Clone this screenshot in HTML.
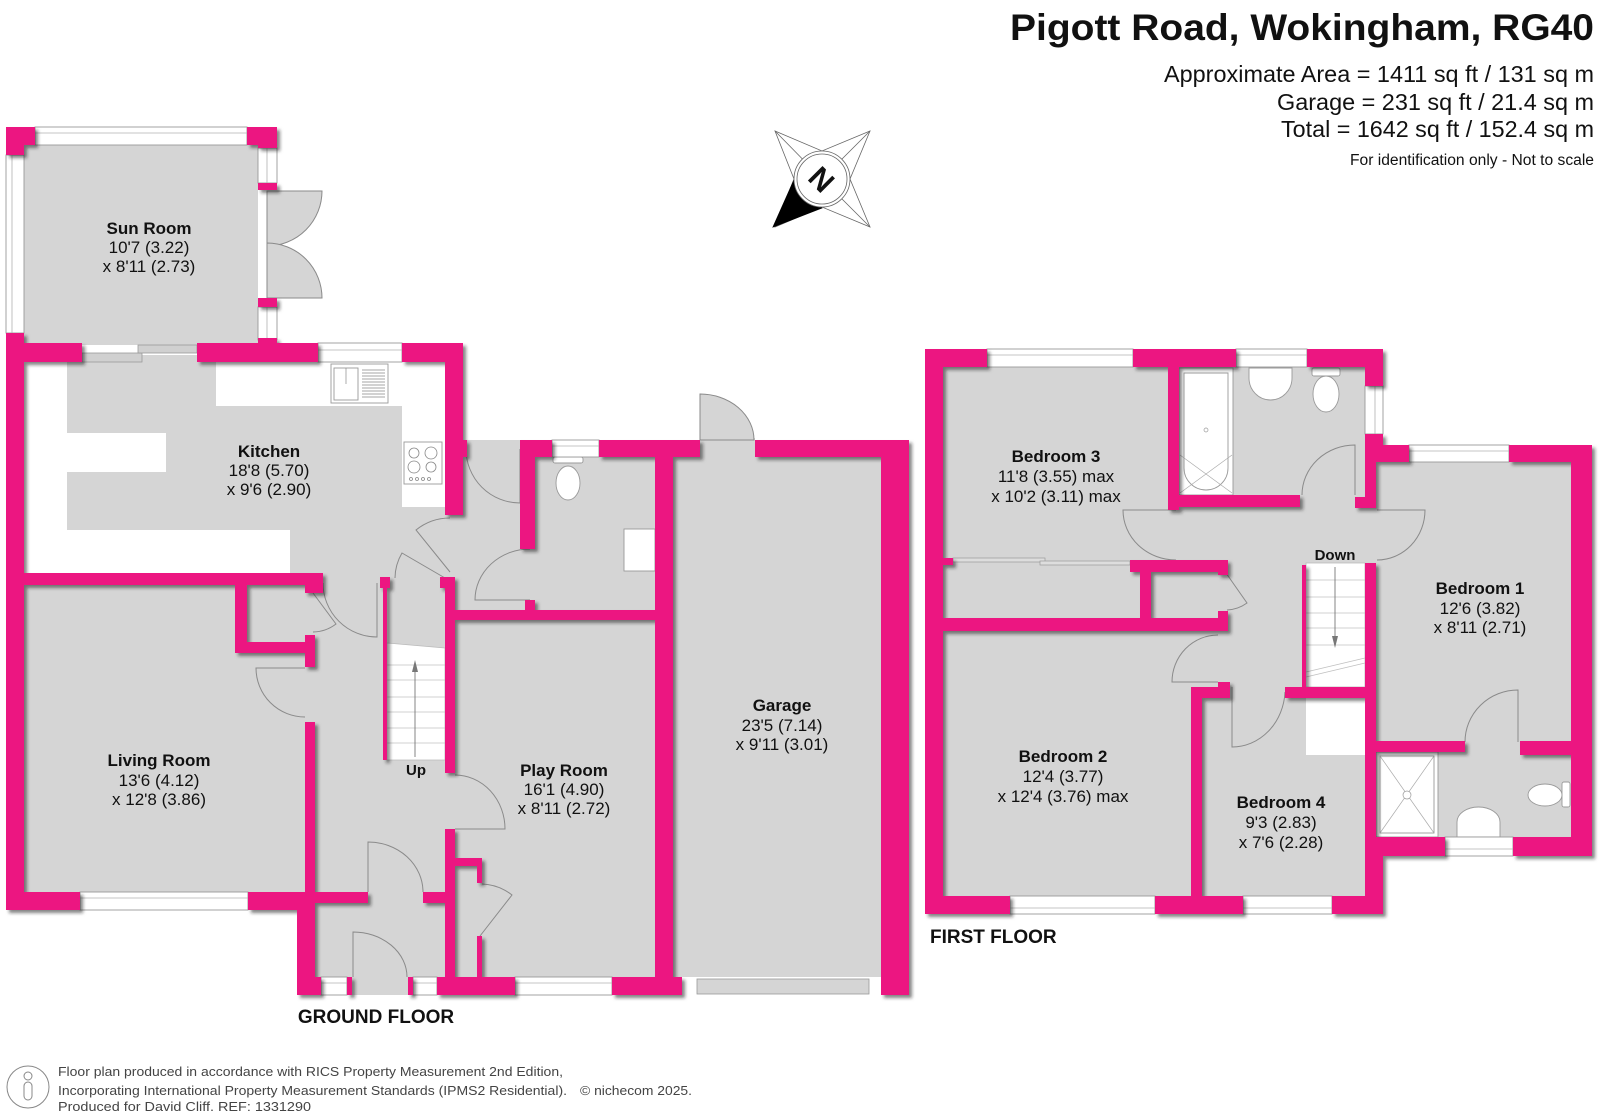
<!DOCTYPE html>
<html><head><meta charset="utf-8">
<style>
html,body{margin:0;padding:0;background:#fff;}
svg{display:block;}
text{font-family:"Liberation Sans",Arial,sans-serif;fill:#111;}
.nm{font-weight:bold;font-size:17px;text-anchor:middle;}
.dm{font-size:17px;text-anchor:middle;}
.win{fill:#fff;stroke:#9a9a9a;stroke-width:0.9;}
.wl{stroke:#b0b0b0;stroke-width:0.8;}
.dr{fill:none;stroke:#8a8a8a;stroke-width:1;}
.fx{fill:#fff;stroke:#9a9a9a;stroke-width:0.9;}
</style></head><body>
<svg width="1600" height="1115" viewBox="0 0 1600 1115" xmlns="http://www.w3.org/2000/svg">
<defs>
<filter id="sh" x="-5%" y="-5%" width="110%" height="110%">
<feDropShadow dx="3" dy="3" stdDeviation="1.5" flood-color="#222" flood-opacity="0.55"/>
</filter>
</defs>

<!-- ===== HEADER ===== -->
<text x="1010" y="40" font-size="37" font-weight="bold" textLength="584" lengthAdjust="spacingAndGlyphs">Pigott Road, Wokingham, RG40</text>
<text x="1164" y="82" font-size="23" textLength="430" lengthAdjust="spacingAndGlyphs">Approximate Area = 1411 sq ft / 131 sq m</text>
<text x="1277" y="110" font-size="23" textLength="317" lengthAdjust="spacingAndGlyphs">Garage = 231 sq ft / 21.4 sq m</text>
<text x="1281" y="137" font-size="23" textLength="313" lengthAdjust="spacingAndGlyphs">Total = 1642 sq ft / 152.4 sq m</text>
<text x="1350" y="165" font-size="15.5" textLength="244" lengthAdjust="spacingAndGlyphs">For identification only - Not to scale</text>

<!-- ===== COMPASS ===== -->
<g stroke="#666" stroke-width="0.8">
<polygon points="775,131 822,151 870,131 850,179 870,227 822,207 775,227 794,179" fill="#fff"/>
<line x1="775" y1="131" x2="822" y2="179"/>
<line x1="870" y1="131" x2="822" y2="179"/>
<line x1="870" y1="227" x2="822" y2="179"/>
<polygon points="773,227 794,180 822,208" fill="#000" stroke="#000"/>
<circle cx="822" cy="179" r="28" fill="#fff"/>
<circle cx="822" cy="179" r="25" fill="none"/>
</g>
<text x="822" y="190" font-size="30" font-weight="bold" text-anchor="middle" transform="rotate(45 822 179)">N</text>

<!-- ===== GROUND FLOOR FLOORS ===== -->
<g fill="#d5d5d5">
<rect x="24" y="145" width="234" height="200"/>
<rect x="24" y="355" width="421" height="218"/>
<rect x="445" y="440" width="90" height="180"/>
<rect x="535" y="457" width="120" height="153"/>
<rect x="24" y="580" width="291" height="315"/>
<rect x="305" y="573" width="140" height="410"/>
<rect x="455" y="615" width="200" height="365"/>
<rect x="673" y="450" width="208" height="530"/>
<rect x="352" y="977" width="56" height="18"/>
<rect x="445" y="770" width="10" height="62"/>
<rect x="700" y="438" width="55" height="20"/>
</g>
<!-- kitchen worktops -->
<g fill="#fff">
<rect x="24" y="362" width="43" height="211"/>
<rect x="67" y="433" width="99" height="39"/>
<rect x="24" y="530" width="266" height="43"/>
<rect x="216" y="362" width="229" height="44"/>
<rect x="402" y="406" width="43" height="101"/>
</g>

<!-- door swing fills -->
<path d="M267,191 L322,191 A55,55 0 0 1 267,246 Z" fill="#d5d5d5" stroke="#8a8a8a"/>
<path d="M267,298 L322,298 A55,55 0 0 0 267,243 Z" fill="#d5d5d5" stroke="#8a8a8a"/>
<path d="M700,440 L700,394 A54,46 0 0 1 754,440 Z" fill="#d5d5d5" stroke="#8a8a8a"/>

<!-- ground floor doors -->
<g class="dr">
<path d="M520,449 L520,503 A54,54 0 0 1 466,449"/>
<path d="M450,572 L416,530 A54,54 0 0 1 450,518"/>
<path d="M445,578 L402,553 A50,50 0 0 0 395,578"/>
<path d="M377,583 L377,637 A54,54 0 0 1 323,583"/>
<path d="M313,593 L336,624 A39,39 0 0 1 313,632"/>
<path d="M305,668 L256,668 A49,49 0 0 0 305,717"/>
<path d="M530,600 L475,600 A55,51 0 0 1 530,549"/>
<path d="M455,829 L505,829 A50,54 0 0 0 455,775"/>
<path d="M480,936 L512,895 A52,52 0 0 0 482,884"/>
<path d="M368,892 L368,842 A55,50 0 0 1 423,892"/>
<path d="M353,977 L353,932 A54,45 0 0 1 407,977"/>
</g>

<!-- ground stairs -->
<polygon points="387,643 445,648 445,760 387,760" fill="#fff" stroke="#bbb" stroke-width="0.8"/>
<g stroke="#c0c0c0" stroke-width="0.8">
<line x1="387" y1="665" x2="445" y2="665"/><line x1="387" y1="680" x2="445" y2="680"/>
<line x1="387" y1="697" x2="445" y2="697"/><line x1="387" y1="712" x2="445" y2="712"/>
<line x1="387" y1="728" x2="445" y2="728"/><line x1="387" y1="743" x2="445" y2="743"/>
</g>
<line x1="415" y1="757" x2="415" y2="668" stroke="#777" stroke-width="0.9"/>
<polygon points="412,672 415,660 418,672" fill="#777"/>

<!-- kitchen fixtures -->
<rect class="fx" x="331" y="364" width="57" height="39"/>
<rect class="fx" x="334" y="368" width="24" height="32"/>
<g stroke="#888" stroke-width="0.7">
<line x1="362" y1="370" x2="385" y2="370"/><line x1="362" y1="373" x2="385" y2="373"/>
<line x1="362" y1="376" x2="385" y2="376"/><line x1="362" y1="379" x2="385" y2="379"/>
<line x1="362" y1="382" x2="385" y2="382"/><line x1="362" y1="385" x2="385" y2="385"/>
<line x1="362" y1="388" x2="385" y2="388"/><line x1="362" y1="391" x2="385" y2="391"/>
<line x1="362" y1="394" x2="385" y2="394"/><line x1="362" y1="397" x2="385" y2="397"/>
<line x1="346" y1="368" x2="346" y2="384"/>
</g>
<rect class="fx" x="404" y="442" width="38" height="42"/>
<g fill="none" stroke="#888" stroke-width="0.8">
<circle cx="414" cy="453" r="5"/><circle cx="431" cy="453" r="6"/>
<circle cx="414" cy="467" r="6"/><circle cx="431" cy="467" r="5"/>
<circle cx="411" cy="479" r="1.5"/><circle cx="417" cy="479" r="1.5"/><circle cx="423" cy="479" r="1.5"/><circle cx="429" cy="479" r="1.5"/>
</g>
<!-- WC fixtures -->
<rect class="fx" x="553" y="457" width="30" height="6" rx="2"/>
<ellipse class="fx" cx="568" cy="483" rx="12" ry="17"/>
<rect class="fx" x="624" y="529" width="31" height="42"/>
<!-- garage door -->
<rect x="682" y="977" width="199" height="18" fill="#fff"/>
<rect x="697" y="979" width="172" height="15" fill="#d5d5d5" stroke="#999" stroke-width="0.8"/>
<!-- sliding door -->
<rect x="82" y="353" width="60" height="9" fill="#d0d0d0" stroke="#999" stroke-width="0.8"/>
<rect x="138" y="345" width="59" height="8" fill="#d0d0d0" stroke="#999" stroke-width="0.8"/>

<!-- ground windows -->
<rect class="win" x="35" y="127" width="212" height="18"/><line class="wl" x1="35" y1="133" x2="247" y2="133"/>
<rect class="win" x="6" y="155" width="18" height="178"/><line class="wl" x1="12" y1="155" x2="12" y2="333"/>
<rect class="win" x="258" y="148" width="19" height="35"/><line class="wl" x1="267" y1="148" x2="267" y2="183"/>
<rect class="win" x="258" y="307" width="19" height="33"/><line class="wl" x1="267" y1="307" x2="267" y2="340"/>
<rect class="win" x="318" y="343" width="84" height="19"/><line class="wl" x1="318" y1="350" x2="402" y2="350"/>
<rect class="win" x="552" y="440" width="47" height="17"/><line class="wl" x1="552" y1="446" x2="599" y2="446"/>
<rect class="win" x="80" y="892" width="168" height="18"/><line class="wl" x1="80" y1="898" x2="248" y2="898"/>
<rect class="win" x="321" y="977" width="26" height="18"/><line class="wl" x1="321" y1="983" x2="347" y2="983"/>
<rect class="win" x="413" y="977" width="24" height="18"/><line class="wl" x1="413" y1="983" x2="437" y2="983"/>
<rect class="win" x="515" y="977" width="97" height="18"/><line class="wl" x1="515" y1="983" x2="612" y2="983"/>

<!-- ground walls -->
<g fill="#ec1681" filter="url(#sh)">
<rect x="6" y="127" width="29" height="18"/><rect x="6" y="127" width="18" height="28"/>
<rect x="247" y="127" width="30" height="18"/><rect x="258" y="127" width="19" height="21"/>
<rect x="258" y="183" width="19" height="7"/>
<rect x="258" y="298" width="19" height="9"/>
<rect x="258" y="338" width="19" height="6"/>
<rect x="6" y="333" width="18" height="577"/>
<rect x="6" y="343" width="76" height="19"/>
<rect x="197" y="343" width="121" height="19"/>
<rect x="402" y="343" width="61" height="19"/>
<rect x="445" y="343" width="18" height="172"/>
<rect x="460" y="440" width="7" height="17"/>
<rect x="6" y="573" width="299" height="12"/>
<rect x="305" y="573" width="18" height="20"/>
<rect x="235" y="585" width="12" height="68"/>
<rect x="235" y="642" width="80" height="11"/>
<rect x="305" y="635" width="10" height="32"/>
<rect x="305" y="722" width="10" height="170"/>
<rect x="6" y="892" width="74" height="18"/>
<rect x="248" y="892" width="67" height="18"/>
<rect x="297" y="892" width="18" height="103"/>
<rect x="315" y="892" width="53" height="11"/>
<rect x="423" y="892" width="22" height="11"/>
<rect x="297" y="977" width="24" height="18"/>
<rect x="347" y="977" width="5" height="18"/>
<rect x="408" y="977" width="5" height="18"/>
<rect x="437" y="977" width="78" height="18"/>
<rect x="612" y="977" width="70" height="18"/>
<rect x="881" y="977" width="28" height="18"/>
<rect x="380" y="577" width="10" height="11"/>
<rect x="383" y="588" width="4" height="172"/>
<rect x="440" y="577" width="15" height="11"/>
<rect x="445" y="577" width="10" height="196"/>
<rect x="445" y="829" width="10" height="166"/>
<rect x="455" y="858" width="27" height="8"/>
<rect x="477" y="858" width="5" height="25"/>
<rect x="477" y="936" width="5" height="41"/>
<rect x="520" y="440" width="15" height="109"/>
<rect x="520" y="440" width="32" height="17"/>
<rect x="599" y="440" width="101" height="17"/>
<rect x="525" y="600" width="10" height="10"/>
<rect x="455" y="610" width="200" height="10"/>
<rect x="655" y="440" width="18" height="555"/>
<rect x="755" y="440" width="154" height="17"/>
<rect x="881" y="440" width="28" height="555"/>
</g>

<!-- ground labels -->
<text class="nm" x="149" y="234">Sun Room</text>
<text class="dm" x="149" y="253">10'7 (3.22)</text>
<text class="dm" x="149" y="272">x 8'11 (2.73)</text>
<text class="nm" x="269" y="457">Kitchen</text>
<text class="dm" x="269" y="476">18'8 (5.70)</text>
<text class="dm" x="269" y="495">x 9'6 (2.90)</text>
<text class="nm" x="159" y="766">Living Room</text>
<text class="dm" x="159" y="786">13'6 (4.12)</text>
<text class="dm" x="159" y="805">x 12'8 (3.86)</text>
<text class="nm" x="564" y="776">Play Room</text>
<text class="dm" x="564" y="795">16'1 (4.90)</text>
<text class="dm" x="564" y="814">x 8'11 (2.72)</text>
<text class="nm" x="782" y="711">Garage</text>
<text class="dm" x="782" y="731">23'5 (7.14)</text>
<text class="dm" x="782" y="750">x 9'11 (3.01)</text>
<text x="416" y="775" font-size="15" font-weight="bold" text-anchor="middle">Up</text>
<text x="376" y="1023" font-size="19" font-weight="bold" text-anchor="middle">GROUND FLOOR</text>

<!-- ===== FIRST FLOOR FLOORS ===== -->
<g fill="#d5d5d5">
<rect x="943" y="367" width="425" height="530"/>
<rect x="1368" y="455" width="205" height="385"/>
</g>
<!-- stairs first -->
<rect x="1306" y="563" width="59" height="124" fill="#fff" stroke="#bbb" stroke-width="0.8"/>
<g stroke="#c0c0c0" stroke-width="0.8">
<line x1="1306" y1="580" x2="1365" y2="580"/><line x1="1306" y1="597" x2="1365" y2="597"/>
<line x1="1306" y1="613" x2="1365" y2="613"/><line x1="1306" y1="628" x2="1365" y2="628"/>
<line x1="1306" y1="645" x2="1365" y2="645"/>
<line x1="1306" y1="672" x2="1365" y2="658"/><line x1="1306" y1="677" x2="1365" y2="663"/>
</g>
<line x1="1335" y1="567" x2="1335" y2="640" stroke="#777" stroke-width="0.9"/>
<polygon points="1332,636 1335,648 1338,636" fill="#777"/>
<rect x="1306" y="698" width="59" height="57" fill="#fff"/>

<!-- wardrobe sliders -->
<rect x="953" y="558" width="92" height="4" fill="#ddd" stroke="#999" stroke-width="0.7"/>
<rect x="1040" y="561" width="90" height="4" fill="#ddd" stroke="#999" stroke-width="0.7"/>

<!-- first doors -->
<g class="dr">
<path d="M1355,495 L1355,445 A53,50 0 0 0 1302,495"/>
<path d="M1176,510 L1123,510 A53,50 0 0 0 1176,560"/>
<path d="M1377,510 L1425,510 A48,50 0 0 1 1377,560"/>
<path d="M1226,573 L1247,603 A37,37 0 0 1 1227,610"/>
<path d="M1218,682 L1172,682 A46,47 0 0 1 1218,635"/>
<path d="M1232,687 L1232,747 A53,58 0 0 0 1285,692"/>
<path d="M1518,742 L1518,690 A53,52 0 0 0 1465,742"/>
</g>

<!-- bathroom fixtures -->
<rect class="fx" x="1179" y="368" width="54" height="127"/>
<path class="fx" d="M1184,373 H1228 V468 A22,22 0 0 1 1184,468 Z"/>
<g stroke="#aaa" stroke-width="0.7">
<line x1="1180" y1="455" x2="1232" y2="493"/><line x1="1232" y1="455" x2="1180" y2="493"/>
</g>
<circle cx="1206" cy="430" r="2" fill="none" stroke="#999" stroke-width="0.7"/>
<path class="fx" d="M1249,368 H1292 V378 A21.5,22 0 0 1 1249,378 Z"/>
<rect class="fx" x="1312" y="368" width="28" height="8" rx="2"/>
<ellipse class="fx" cx="1326" cy="394" rx="13" ry="18"/>
<!-- ensuite fixtures -->
<rect class="fx" x="1376" y="752" width="62" height="85"/>
<rect class="fx" x="1380" y="756" width="54" height="77"/>
<g stroke="#aaa" stroke-width="0.7">
<line x1="1380" y1="756" x2="1434" y2="833"/><line x1="1434" y1="756" x2="1380" y2="833"/>
</g>
<circle cx="1407" cy="795" r="4" fill="#fff" stroke="#999" stroke-width="0.7"/>
<path class="fx" d="M1457,837 V822 A21.5,15 0 0 1 1500,822 V837 Z"/>
<rect class="fx" x="1562" y="782" width="8" height="25" rx="2"/>
<ellipse class="fx" cx="1545" cy="795" rx="17" ry="11"/>

<!-- first windows -->
<rect class="win" x="987" y="349" width="146" height="18"/><line class="wl" x1="987" y1="355" x2="1133" y2="355"/>
<rect class="win" x="1236" y="349" width="71" height="18"/><line class="wl" x1="1236" y1="355" x2="1307" y2="355"/>
<rect class="win" x="1365" y="386" width="18" height="48"/><line class="wl" x1="1375" y1="386" x2="1375" y2="434"/>
<rect class="win" x="1409" y="445" width="100" height="17"/><line class="wl" x1="1409" y1="451" x2="1509" y2="451"/>
<rect class="win" x="1445" y="837" width="68" height="19"/><line class="wl" x1="1445" y1="849" x2="1513" y2="849"/>
<rect class="win" x="1010" y="896" width="145" height="18"/><line class="wl" x1="1010" y1="908" x2="1155" y2="908"/>
<rect class="win" x="1243" y="896" width="89" height="18"/><line class="wl" x1="1243" y1="908" x2="1332" y2="908"/>

<!-- first walls -->
<g fill="#ec1681" filter="url(#sh)">
<rect x="925" y="349" width="18" height="565"/>
<rect x="925" y="349" width="62" height="18"/>
<rect x="1133" y="349" width="103" height="18"/>
<rect x="1307" y="349" width="76" height="18"/>
<rect x="1365" y="349" width="18" height="37"/>
<rect x="1365" y="434" width="18" height="28"/>
<rect x="1365" y="462" width="11" height="46"/>
<rect x="1355" y="497" width="21" height="11"/>
<rect x="1383" y="445" width="26" height="17"/>
<rect x="1509" y="445" width="83" height="17"/>
<rect x="1571" y="445" width="21" height="411"/>
<rect x="1168" y="367" width="11" height="143"/>
<rect x="1168" y="495" width="132" height="12"/>
<rect x="925" y="618" width="303" height="13"/>
<rect x="943" y="558" width="10" height="7"/>
<rect x="1130" y="560" width="98" height="12"/>
<rect x="1140" y="560" width="11" height="60"/>
<rect x="1218" y="560" width="10" height="15"/>
<rect x="1218" y="611" width="10" height="20"/>
<rect x="1191" y="687" width="11" height="213"/>
<rect x="1191" y="687" width="39" height="11"/>
<rect x="1218" y="682" width="12" height="16"/>
<rect x="1285" y="687" width="91" height="11"/>
<rect x="1302" y="565" width="4" height="122"/>
<rect x="1365" y="563" width="11" height="274"/>
<rect x="1365" y="837" width="18" height="77"/>
<rect x="1376" y="741" width="89" height="11"/>
<rect x="1520" y="741" width="72" height="14"/>
<rect x="1376" y="837" width="69" height="19"/>
<rect x="1513" y="837" width="79" height="19"/>
<rect x="925" y="896" width="85" height="18"/>
<rect x="1155" y="896" width="88" height="18"/>
<rect x="1332" y="896" width="51" height="18"/>
</g>

<!-- first labels -->
<text class="nm" x="1056" y="462">Bedroom 3</text>
<text class="dm" x="1056" y="482">11'8 (3.55) max</text>
<text class="dm" x="1056" y="502">x 10'2 (3.11) max</text>
<text class="nm" x="1063" y="762">Bedroom 2</text>
<text class="dm" x="1063" y="782">12'4 (3.77)</text>
<text class="dm" x="1063" y="802">x 12'4 (3.76) max</text>
<text class="nm" x="1281" y="808">Bedroom 4</text>
<text class="dm" x="1281" y="828">9'3 (2.83)</text>
<text class="dm" x="1281" y="848">x 7'6 (2.28)</text>
<text class="nm" x="1480" y="594">Bedroom 1</text>
<text class="dm" x="1480" y="614">12'6 (3.82)</text>
<text class="dm" x="1480" y="633">x 8'11 (2.71)</text>
<text x="1335" y="560" font-size="15" font-weight="bold" text-anchor="middle">Down</text>
<text x="930" y="943" font-size="19" font-weight="bold">FIRST FLOOR</text>

<!-- ===== FOOTER ===== -->
<g fill="none" stroke="#888" stroke-width="1">
<circle cx="28" cy="1087" r="21"/>
<circle cx="28" cy="1076" r="4"/>
<rect x="24" y="1082" width="8" height="18" rx="4"/>
</g>
<g font-size="13">
<text x="58" y="1076" textLength="505" lengthAdjust="spacingAndGlyphs" style="fill:#444">Floor plan produced in accordance with RICS Property Measurement 2nd Edition,</text>
<text x="58" y="1095" textLength="509" lengthAdjust="spacingAndGlyphs" style="fill:#444">Incorporating International Property Measurement Standards (IPMS2 Residential).</text>
<text x="580" y="1095" textLength="112" lengthAdjust="spacingAndGlyphs" style="fill:#444">© nichecom 2025.</text>
<text x="58" y="1111" textLength="253" lengthAdjust="spacingAndGlyphs" style="fill:#444">Produced for David Cliff.   REF: 1331290</text>
</g>
</svg>
</body></html>
